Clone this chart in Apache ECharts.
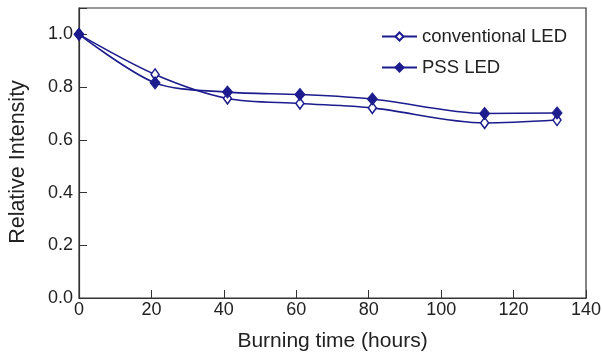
<!DOCTYPE html>
<html>
<head>
<meta charset="utf-8">
<script src="https://cdn.jsdelivr.net/npm/echarts@6/dist/echarts.min.js"></script>
<style>
  html, body { margin: 0; padding: 0; background: #fff; }
  #chart { width: 602px; height: 357px; }
</style>
</head>
<body>
<div id="chart"></div>
<script>
// burning time (hours) and relative intensity
var hours = [0, 21, 41, 61, 81, 112, 132];
var conventional = [1.0, 0.848, 0.757, 0.738, 0.721, 0.664, 0.675];
var pss = [1.0, 0.816, 0.781, 0.772, 0.755, 0.700, 0.702];

var lineColor = '#1c1c8e';
var font = 'Liberation Sans, Arial, sans-serif';

function pairs(xs, ys) {
    return xs.map(function (x, i) { return [x, ys[i]]; });
}

var chart = echarts.init(document.getElementById('chart'));
var option = {
    animation: false,
    grid: {
        left: 79, right: 16, top: 8, bottom: 59,
        outerBoundsMode: 'none',
        show: true, borderColor: '#333', borderWidth: 1.2, backgroundColor: 'transparent'
    },
    legend: {
        orient: 'vertical',
        right: 30, top: 22,
        itemWidth: 35, itemHeight: 10, itemGap: 12,
        textStyle: { fontFamily: font, fontSize: 18.5, color: '#222' },
        data: ['conventional LED', 'PSS LED']
    },
    xAxis: {
        type: 'value',
        min: 0, max: 140, interval: 20,
        name: 'Burning time (hours)',
        nameLocation: 'middle',
        nameGap: 33,
        nameTextStyle: { fontFamily: font, fontSize: 21, color: '#222' },
        axisLine: { lineStyle: { color: '#333', width: 1.2 } },
        axisTick: { inside: true, length: 8, lineStyle: { color: '#333' } },
        axisLabel: { fontFamily: font, fontSize: 18, color: '#222', margin: 3 },
        splitLine: { show: false }
    },
    yAxis: {
        type: 'value',
        min: 0, max: 1.1, interval: 0.2,
        name: 'Relative Intensity',
        nameLocation: 'middle',
        nameGap: 50,
        nameTextStyle: { fontFamily: font, fontSize: 21.5, color: '#222', padding: [0, 18, 0, 0] },
        axisLine: { show: true, lineStyle: { color: '#333', width: 1.2 } },
        axisTick: { inside: true, length: 8, lineStyle: { color: '#333' } },
        axisLabel: {
            fontFamily: font, fontSize: 18, color: '#222', margin: 6,
            formatter: function (v) { return v > 1.05 ? '' : v.toFixed(1); }
        },
        splitLine: { show: false }
    },
    series: [
        {
            name: 'conventional LED',
            type: 'line',
            smooth: 0.3,
            data: pairs(hours, conventional),
            symbol: 'diamond',
            symbolSize: [8, 11],
            lineStyle: { color: lineColor, width: 1.6 },
            itemStyle: { color: '#fff', borderColor: lineColor, borderWidth: 1.5 }
        },
        {
            name: 'PSS LED',
            type: 'line',
            smooth: 0.3,
            data: pairs(hours, pss),
            symbol: 'diamond',
            symbolSize: [10, 12],
            lineStyle: { color: lineColor, width: 1.6 },
            itemStyle: { color: lineColor, borderColor: lineColor, borderWidth: 1 }
        }
    ]
};
chart.setOption(option);
</script>
</body>
</html>
